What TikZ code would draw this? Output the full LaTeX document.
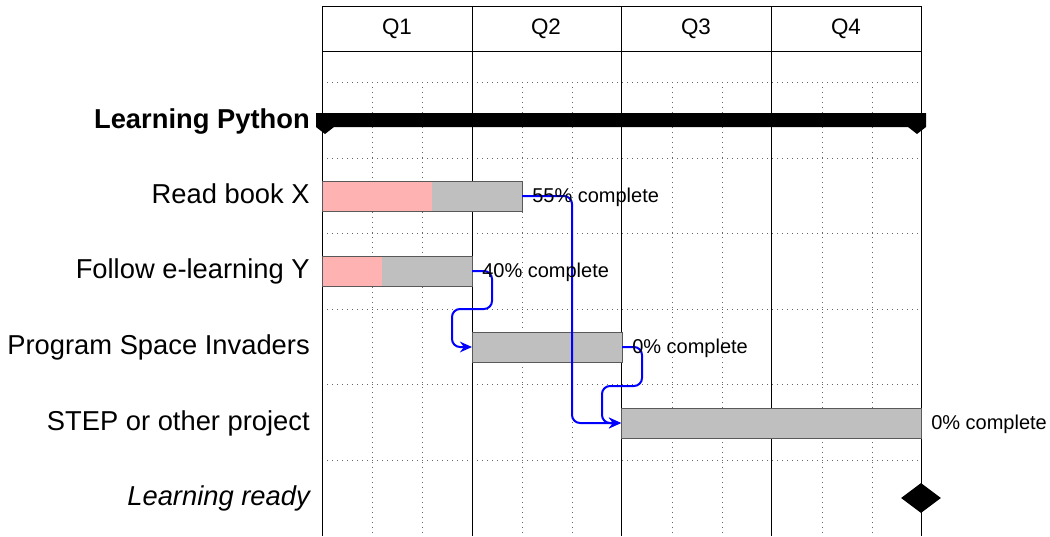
\documentclass[tikz,border=0pt]{standalone}
\usepackage{fontspec}
\setmainfont{Liberation Sans}
\usetikzlibrary{shapes.geometric,arrows.meta}

\begin{document}
\begin{tikzpicture}[x=0.75pt, y=-0.75pt,
  bar/.style={draw=black!65, fill=black!25, line width=0.75pt, inner sep=0pt, outer sep=0pt, minimum height=22.5pt, anchor=west},
  done/.style={fill=red!30},
  row/.style={anchor=base east, inner sep=0pt, font=\fontsize{20.5}{24}\selectfont},
  pct/.style={anchor=base west, inner sep=0pt, font=\fontsize{15}{18}\selectfont},
  quarter/.style={anchor=base, inner sep=0pt, font=\fontsize{16.8}{20}\selectfont},
  link/.style={draw=blue, line width=1.5pt, rounded corners=6pt, -{Stealth[length=9pt,width=8pt]}},
  minor/.style={black!60, line width=0.6pt, dash pattern=on 0.75pt off 3pt}]

  \useasboundingbox (0,0) rectangle (1050,536);

  % grid
  \foreach \y in {82,158,233,309,384,460}
    \draw[minor] (322,\y) -- (921,\y);
  \foreach \x in {372,422,522,572,672,722,822,872}
    \draw[minor] (\x,82) -- (\x,536);
  \foreach \x in {322,472,621,771,921}
    \draw[line width=0.75pt] (\x,6) -- (\x,536);
  \draw[line width=0.75pt] (322,6) -- (921,6) (322,51) -- (921,51);

  % quarters
  \node[quarter] (q1) at (397,34) {Q1};
  \node[quarter] (q2) at (546,34) {Q2};
  \node[quarter] (q3) at (696,34) {Q3};
  \node[quarter] (q4) at (846,34) {Q4};

  % group
  \node[row, font=\fontsize{20.5}{24}\selectfont\bfseries] (g1) at (310,128) {Learning Python};
  \fill (316,113) -- (926,113) -- (926,127) -- (917,134) -- (908,127)
    -- (334,127) -- (325,134) -- (316,127) -- cycle;

  % tasks
  \node[row] (r1) at (310,203) {Read book X};
  \node[row] (r2) at (310,278) {Follow e-learning Y};
  \node[row] (r3) at (310,354) {Program Space Invaders};
  \node[row] (r4) at (310,430) {STEP or other project};
  \node[row, font=\fontsize{20.5}{24}\selectfont\itshape] (r5) at (310,505) {Learning ready};

  \node[bar, minimum width=150pt] (t1) at (322,196) {};
  \node[bar, minimum width=112.5pt] (t2) at (322,271) {};
  \node[bar, minimum width=112.5pt] (t3) at (472,347) {};
  \node[bar, minimum width=225pt] (t4) at (621,423) {};

  \fill[done] (t1.north west) rectangle ([xshift=82.5pt]t1.south west);
  \fill[done] (t2.north west) rectangle ([xshift=45pt]t2.south west);
  \draw[black!65, line width=0.75pt] (t1.north west) rectangle (t1.south east);
  \draw[black!65, line width=0.75pt] (t2.north west) rectangle (t2.south east);

  \node[diamond, fill=black, inner sep=0pt, minimum width=30pt, minimum height=22.5pt] (m1) at (921,498) {};

  % links
  \draw[link] (t1.east) -- ++(50,0) |- (t4.west);
  \draw[link] (t2.east) -- ++(20,0) -- ++(0,38) -- ++(-40,0) |- (t3.west);
  \draw[link] (t3.east) -- ++(20,0) -- ++(0,39) -- ++(-40,0) |- (t4.west);

  \node[pct] (p1) at ([xshift=7.5pt,yshift=-5pt]t1.east) {55\% complete};
  \node[pct] (p2) at ([xshift=7.5pt,yshift=-5pt]t2.east) {40\% complete};
  \node[pct] (p3) at ([xshift=7.5pt,yshift=-5pt]t3.east) {0\% complete};
  \node[pct] (p4) at ([xshift=7.5pt,yshift=-5pt]t4.east) {0\% complete};
\end{tikzpicture}
\end{document}
